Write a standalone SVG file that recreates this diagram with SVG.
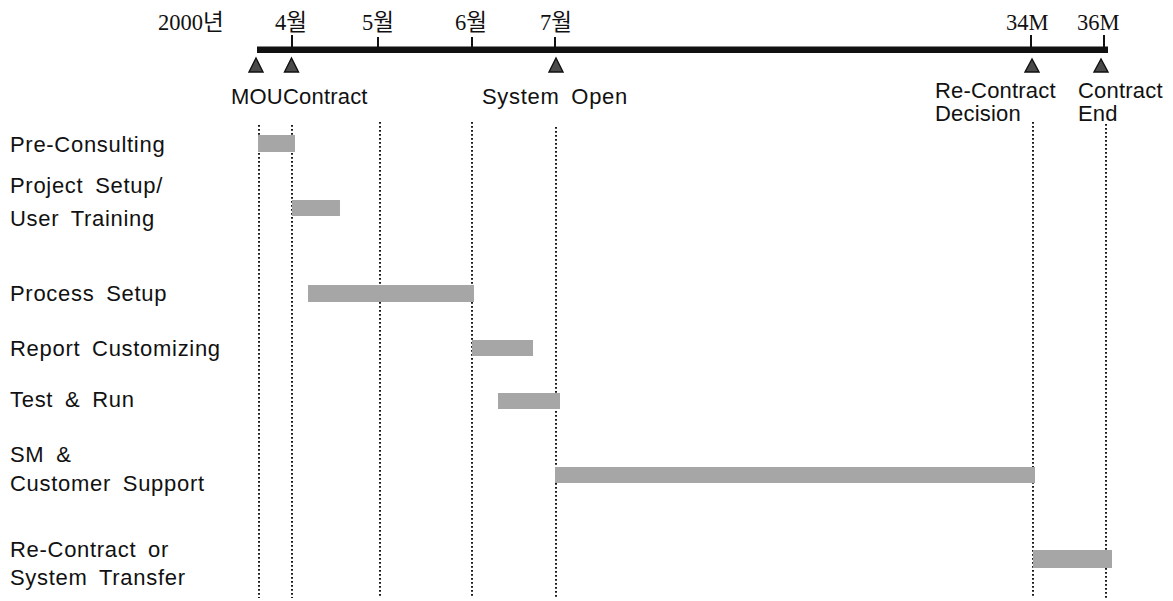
<svg xmlns="http://www.w3.org/2000/svg" width="1173" height="601" viewBox="0 0 1173 601">
<style>
.s{font-family:"Liberation Sans",Arial,sans-serif;font-size:22px;fill:#111;letter-spacing:0.7px;word-spacing:5px}
.n{letter-spacing:0.2px}
.t{font-family:"Liberation Serif","Noto Sans CJK KR",serif;font-size:22.5px;fill:#111}
.dot{stroke:#1a1a1a;stroke-width:2;stroke-dasharray:1.8 2.2;fill:none}
.bar{fill:#a6a6a6}
.tri{fill:#4a4a4a;stroke:#111;stroke-width:1.4}
.tick{stroke:#111;stroke-width:2}
</style>
<rect width="1173" height="601" fill="#fff"/>
<g id="timeline">
<rect x="257" y="46.5" width="851" height="6.5" fill="#111"/>
<line class="tick" x1="292" y1="35" x2="292" y2="48"/>
<line class="tick" x1="378" y1="37" x2="378" y2="48"/>
<line class="tick" x1="472" y1="37" x2="472" y2="48"/>
<line class="tick" x1="555" y1="37" x2="555" y2="48"/>
<line class="tick" x1="1031" y1="35" x2="1031" y2="48"/>
<line class="tick" x1="1104" y1="35" x2="1104" y2="48"/>
<text class="t" x="158" y="30">2000년</text>
<text class="t" x="275" y="30">4월</text>
<text class="t" x="362" y="30">5월</text>
<text class="t" x="455" y="30">6월</text>
<text class="t" x="540" y="30">7월</text>
<text class="t" x="1006" y="30">34M</text>
<text class="t" x="1077" y="30">36M</text>
</g>
<g id="milestones">
<polygon class="tri" points="256,58 249,72 263,72"/>
<polygon class="tri" points="291.5,58 284.5,72 298.5,72"/>
<polygon class="tri" points="556,58 549,72 563,72"/>
<polygon class="tri" points="1032,59 1025,72 1039,72"/>
<polygon class="tri" points="1101,59 1094,72 1108,72"/>
<text class="s n" x="231" y="104">MOUContract</text>
<text class="s" x="482" y="104">System Open</text>
<text class="s n" x="935" y="98">Re-Contract</text>
<text class="s n" x="935" y="121">Decision</text>
<text class="s n" x="1078" y="98">Contract</text>
<text class="s n" x="1078" y="121">End</text>
</g>
<g id="connectors">
<line class="dot" x1="259" y1="125" x2="259" y2="598"/>
<line class="dot" x1="292" y1="125" x2="292" y2="598"/>
<line class="dot" x1="380" y1="122" x2="380" y2="598"/>
<line class="dot" x1="472" y1="122" x2="472" y2="598"/>
<line class="dot" x1="556" y1="127" x2="556" y2="598"/>
<line class="dot" x1="1033" y1="122" x2="1033" y2="598"/>
<line class="dot" x1="1106" y1="124" x2="1106" y2="598"/>
</g>
<g id="pre-consulting">
<text class="s" x="10" y="152">Pre-Consulting</text>
<rect class="bar" x="258" y="135" width="37" height="17"/>
</g>
<g id="project-setup">
<text class="s" x="10" y="193">Project Setup/</text>
<text class="s" x="10" y="226">User Training</text>
<rect class="bar" x="292" y="200" width="48" height="16"/>
</g>
<g id="process-setup">
<text class="s" x="10" y="301">Process Setup</text>
<rect class="bar" x="308" y="285" width="166" height="17"/>
</g>
<g id="report-customizing">
<text class="s" x="10" y="356">Report Customizing</text>
<rect class="bar" x="472" y="340" width="61" height="16"/>
</g>
<g id="test-run">
<text class="s" x="10" y="407">Test &amp; Run</text>
<rect class="bar" x="498" y="393" width="62" height="16"/>
</g>
<g id="sm-support">
<text class="s" x="10" y="462">SM &amp;</text>
<text class="s" x="10" y="491">Customer Support</text>
<rect class="bar" x="555" y="467" width="480" height="16"/>
</g>
<g id="re-contract">
<text class="s" x="10" y="557">Re-Contract or</text>
<text class="s" x="10" y="585">System Transfer</text>
<rect class="bar" x="1033" y="550" width="79" height="18"/>
</g>
</svg>
